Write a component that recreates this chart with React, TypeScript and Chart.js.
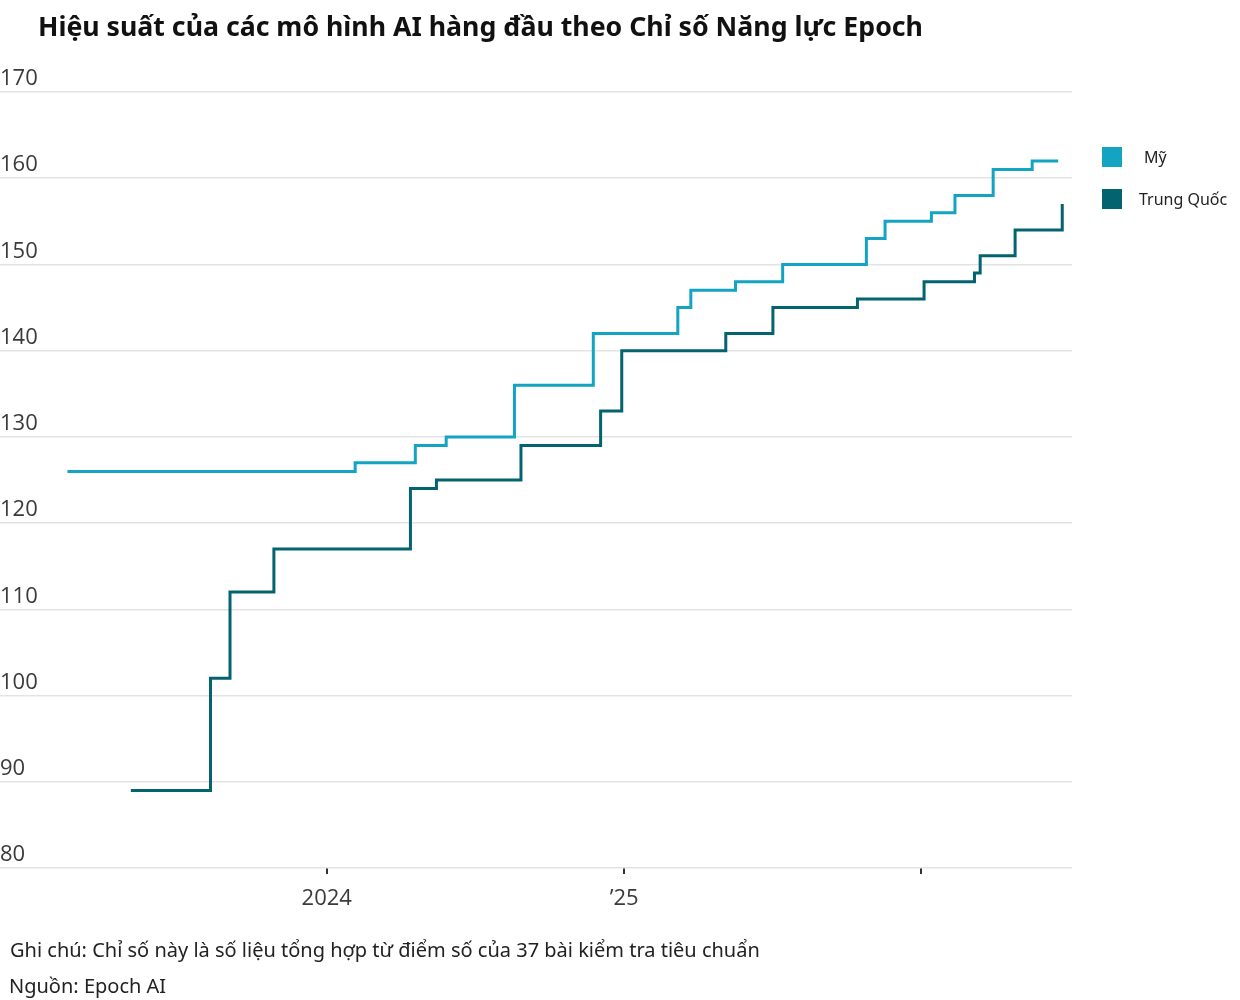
import React, { useEffect, useRef } from "react";
import { Chart, registerables } from "chart.js";

Chart.register(...registerables);

const TITLE = "Hiệu suất của các mô hình AI hàng đầu theo Chỉ số Năng lực Epoch";
const NOTE = "Ghi chú: Chỉ số này là số liệu tổng hợp từ điểm số của 37 bài kiểm tra tiêu chuẩn";
const SOURCE = "Nguồn: Epoch AI";

const seriesNames = ["Mỹ", "Trung Quốc"];
const seriesColors = ["#13a4c3", "#03646f"];

const usDates = [
  "2023-02-16", "2024-02-05", "2024-04-19", "2024-05-27", "2024-08-19", "2024-11-24",
  "2025-03-08", "2025-03-24", "2025-05-18", "2025-07-15", "2025-10-26", "2025-11-18",
  "2026-01-14", "2026-02-12", "2026-03-31", "2026-05-18", "2026-06-19",
];
const usValues = [126, 127, 129, 130, 136, 142, 145, 147, 148, 150, 153, 155, 156, 158, 161, 162, 162];

const cnDates = [
  "2023-05-05", "2023-08-11", "2023-09-04", "2023-10-28", "2024-04-13", "2024-05-15",
  "2024-08-27", "2024-12-03", "2024-12-29", "2025-05-06", "2025-07-03", "2025-10-15",
  "2026-01-05", "2026-03-08", "2026-03-15", "2026-04-27", "2026-06-24",
];
const cnValues = [89, 102, 112, 117, 124, 125, 129, 133, 140, 142, 145, 146, 148, 149, 151, 154, 157];

const xTickDates = ["2024-01-01", "2025-01-01", "2026-01-01"];
const xTickLabels = ["2024", "\u201925", ""];
const xRange = ["2022-11-25", "2026-07-06"];
const yMin = 80;
const yMax = 170;
const yStep = 10;

const toMs = (d: string) => {
  const [y, m, dd] = d.split("-").map(Number);
  return Date.UTC(y, m - 1, dd);
};

export default function App() {
  const ref = useRef<HTMLCanvasElement | null>(null);

  useEffect(() => {
    document.body.style.margin = "0";
    if (!ref.current) return;
    const tickMs = xTickDates.map(toMs);
    const tickFont = { family: "'Open Sans', 'Noto Sans', sans-serif", size: 22 };
    const chart = new Chart(ref.current, {
      type: "line",
      data: {
        datasets: [
          {
            label: seriesNames[0],
            data: usDates.map((d, i) => ({ x: toMs(d), y: usValues[i] })),
            borderColor: seriesColors[0],
            backgroundColor: seriesColors[0],
            borderWidth: 3,
            pointRadius: 0,
            stepped: true,
            fill: false,
          },
          {
            label: seriesNames[1],
            data: cnDates.map((d, i) => ({ x: toMs(d), y: cnValues[i] })),
            borderColor: seriesColors[1],
            backgroundColor: seriesColors[1],
            borderWidth: 3,
            pointRadius: 0,
            stepped: true,
            fill: false,
          },
        ],
      },
      options: {
        animation: false,
        responsive: false,
        maintainAspectRatio: false,
        layout: { padding: { top: 92, left: 0, right: 168, bottom: 82 } },
        plugins: { legend: { display: false }, tooltip: { enabled: false }, title: { display: false } },
        scales: {
          x: {
            type: "linear",
            min: toMs(xRange[0]),
            max: toMs(xRange[1]),
            afterBuildTicks: (scale: any) => {
              scale.ticks = tickMs.map((v) => ({ value: v }));
            },
            afterFit: (scale: any) => {
              scale.height = 50;
            },
            border: { display: false },
            grid: {
              display: true,
              drawOnChartArea: false,
              drawTicks: true,
              tickLength: 6,
              color: "#333333",
              lineWidth: 2,
            },
            ticks: {
              autoSkip: false,
              maxRotation: 0,
              padding: 12,
              color: "#3a3a3a",
              font: tickFont,
              callback: (v: any) => {
                const i = tickMs.indexOf(Number(v));
                return i >= 0 ? xTickLabels[i] : "";
              },
            },
          },
          y: {
            min: yMin,
            max: yMax,
            afterFit: (scale: any) => {
              scale.width = 0;
            },
            border: { display: false },
            grid: { color: "#e3e3e3", lineWidth: 1.5, drawTicks: false },
            ticks: {
              stepSize: yStep,
              mirror: true,
              padding: 0,
              labelOffset: -13,
              color: "#3a3a3a",
              font: tickFont,
            },
          },
        },
      },
    });
    return () => chart.destroy();
  }, []);

  const font = "'Noto Sans', 'Open Sans', sans-serif";
  return (
    <div style={{ position: "relative", width: 1240, height: 1000, background: "#fff", fontFamily: font }}>
      <canvas ref={ref} width={1240} height={1000} style={{ position: "absolute", left: 0, top: 0, width: 1240, height: 1000 }} />
      <div style={{ position: "absolute", left: 38, top: 13, fontSize: 26.7, lineHeight: 1, fontWeight: 700, color: "#111", whiteSpace: "nowrap" }}>
        {TITLE}
      </div>
      <div style={{ position: "absolute", left: 1102, top: 147, width: 20, height: 20, background: seriesColors[0] }} />
      <div style={{ position: "absolute", left: 1144, top: 149, fontSize: 16, lineHeight: 1, color: "#222", whiteSpace: "nowrap" }}>
        {seriesNames[0]}
      </div>
      <div style={{ position: "absolute", left: 1102, top: 189, width: 20, height: 20, background: seriesColors[1] }} />
      <div style={{ position: "absolute", left: 1139, top: 191, fontSize: 16, lineHeight: 1, color: "#222", whiteSpace: "nowrap" }}>
        {seriesNames[1]}
      </div>
      <div style={{ position: "absolute", left: 10, top: 940, fontSize: 20, lineHeight: 1, color: "#222", whiteSpace: "nowrap" }}>
        {NOTE}
      </div>
      <div style={{ position: "absolute", left: 9, top: 976, fontSize: 20, lineHeight: 1, color: "#222", whiteSpace: "nowrap" }}>
        {SOURCE}
      </div>
    </div>
  );
}
